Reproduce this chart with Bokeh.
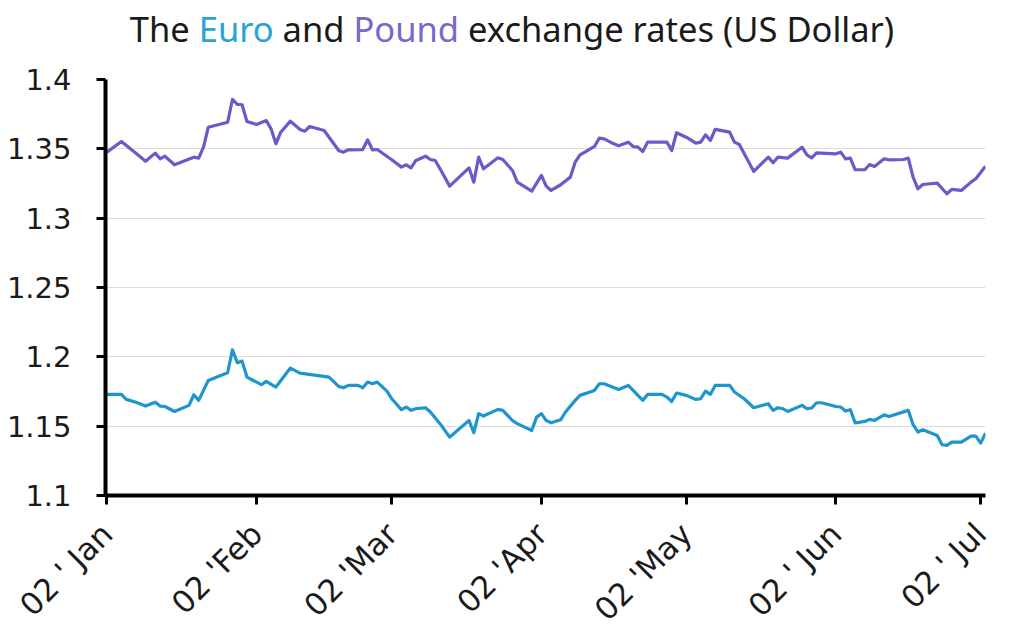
import math

from bokeh.embed import file_html
from bokeh.layouts import column
from bokeh.models import Div, FixedTicker, Range1d
from bokeh.plotting import figure
from bokeh.resources import INLINE

# Days counted from 2 January
pound_day = [0, 3, 6, 8, 10, 11, 12, 14, 18, 19, 20, 21, 25, 26, 27, 28, 29, 31, 33, 34,
             35, 36, 38, 40, 41, 42, 45, 48, 49, 50, 53, 54, 55, 56, 59, 61, 62, 63, 64, 66,
             67, 68, 69, 71, 75, 76, 77, 78, 81, 82, 84, 85, 88, 90, 91, 92, 94, 96, 97, 98,
             99, 101, 102, 103, 105, 106, 108, 109, 110, 111, 112, 116, 117, 118, 120, 122,
             123, 124, 125, 126, 129, 130, 131, 134, 137, 138, 139, 141, 144, 145, 146, 147,
             151, 152, 153, 154, 155, 157, 158, 159, 161, 162, 165, 166, 167, 168, 169, 172,
             174, 175, 177, 179, 180, 182]
pound_usd = [1.3476, 1.3553, 1.3469, 1.3411, 1.3469, 1.3428, 1.3447, 1.3385, 1.3440, 1.3433,
             1.3512, 1.3656, 1.3692, 1.3856, 1.3820, 1.3818, 1.3697, 1.3676, 1.3704, 1.3644,
             1.3536, 1.3620, 1.3700, 1.3640, 1.3627, 1.3661, 1.3632, 1.3488, 1.3476, 1.3493,
             1.3495, 1.3565, 1.3493, 1.3495, 1.3421, 1.3368, 1.3385, 1.3363, 1.3416, 1.3447,
             1.3423, 1.3416, 1.3356, 1.3231, 1.3363, 1.3260, 1.3440, 1.3356, 1.3435, 1.3423,
             1.3344, 1.3260, 1.3195, 1.3308, 1.3231, 1.3200, 1.3241, 1.3296, 1.3404, 1.3457,
             1.3476, 1.3517, 1.3577, 1.3572, 1.3536, 1.3522, 1.3548, 1.3517, 1.3512, 1.3481,
             1.3548, 1.3548, 1.3488, 1.3616, 1.3584, 1.3541, 1.3548, 1.3601, 1.3560, 1.3640,
             1.3620, 1.3548, 1.3531, 1.3337, 1.3440, 1.3400, 1.3440, 1.3433, 1.3512, 1.3457,
             1.3435, 1.3471, 1.3464, 1.3476, 1.3428, 1.3433, 1.3349, 1.3349, 1.3387, 1.3373,
             1.3428, 1.3421, 1.3423, 1.3433, 1.3296, 1.3212, 1.3243, 1.3253, 1.3176, 1.3207,
             1.3200, 1.3260, 1.3284, 1.3375]

euro_day = [0, 3, 4, 6, 8, 10, 11, 12, 14, 17, 18, 19, 21, 25, 26, 27, 28, 29, 32, 33,
            35, 38, 40, 46, 48, 49, 50, 52, 53, 54, 55, 56, 58, 59, 61, 62, 63, 64, 66, 67,
            69, 71, 75, 76, 77, 78, 81, 82, 84, 85, 88, 89, 90, 91, 92, 94, 95, 97, 98, 101,
            102, 103, 106, 108, 110, 111, 112, 115, 116, 117, 118, 120, 122, 123, 124, 125,
            126, 129, 130, 132, 134, 137, 138, 139, 140, 141, 144, 145, 146, 147, 148, 151,
            152, 153, 154, 155, 157, 158, 159, 161, 162, 166, 167, 168, 169, 172, 173, 174,
            175, 177, 179, 180, 181, 182]
euro_usd = [1.1729, 1.1729, 1.1693, 1.1673, 1.1645, 1.1673, 1.1645, 1.1642, 1.1606, 1.1650,
            1.1727, 1.1686, 1.1830, 1.1885, 1.2051, 1.1957, 1.1969, 1.1854, 1.1799, 1.1823,
            1.1782, 1.1919, 1.1883, 1.1854, 1.1787, 1.1777, 1.1794, 1.1794, 1.1777, 1.1818,
            1.1806, 1.1818, 1.1753, 1.1698, 1.1619, 1.1638, 1.1614, 1.1626, 1.1633, 1.1602,
            1.1518, 1.1421, 1.1541, 1.1453, 1.1590, 1.1573, 1.1621, 1.1614, 1.1541, 1.1518,
            1.1469, 1.1565, 1.1590, 1.1541, 1.1525, 1.1546, 1.1602, 1.1686, 1.1722, 1.1758,
            1.1806, 1.1806, 1.1765, 1.1794, 1.1722, 1.1686, 1.1729, 1.1729, 1.1710, 1.1678,
            1.1739, 1.1722, 1.1693, 1.1698, 1.1753, 1.1729, 1.1794, 1.1794, 1.1746, 1.1698,
            1.1633, 1.1662, 1.1614, 1.1633, 1.1626, 1.1606, 1.1650, 1.1626, 1.1631, 1.1669,
            1.1669, 1.1642, 1.1638, 1.1609, 1.1619, 1.1523, 1.1534, 1.1549, 1.1541, 1.1582,
            1.1570, 1.1614, 1.1511, 1.1458, 1.1474, 1.1433, 1.1366, 1.1361, 1.1385, 1.1385,
            1.1428, 1.1428, 1.1378, 1.1450]

tick_days = [0, 31, 59, 90, 120, 151, 181]
tick_labels = ["02 ' Jan", "02 'Feb", "02 'Mar", "02 'Apr", "02 'May", "02 ' Jun", "02 ' Jul"]
y_ticks = [1.1, 1.15, 1.2, 1.25, 1.3, 1.35, 1.4]
y_labels = ["1.1", "1.15", "1.2", "1.25", "1.3", "1.35", "1.4"]

EURO_COLOR = "#1e96cd"
POUND_COLOR = "#6c5ac8"
TITLE_FONT = "Noto Sans"
TICK_FONT = "DejaVu Sans"

title = Div(
    text=(
        f"<div style=\"width:1024px;text-align:center;font-family:'{TITLE_FONT}';font-size:34.5px;"
        "color:#1a1a1a;line-height:40px;padding-top:9px;\">"
        "The <span style='color:#29a3d3'>Euro</span> and "
        "<span style='color:#7a67cc'>Pound</span> exchange rates (US Dollar)</div>"
    ),
    width=1024, height=60, margin=0,
)

p = figure(
    width=1024, height=584, output_backend="svg", toolbar_location=None,
    x_range=Range1d(-0.3, 182), y_range=Range1d(1.1, 1.4),
    min_border_left=105, min_border_right=39, min_border_top=19, min_border_bottom=149,
    margin=0,
)
p.outline_line_color = None
p.background_fill_color = "white"

p.line(pound_day, pound_usd, line_color=POUND_COLOR, line_width=3.2, line_join="round")
p.line(euro_day, euro_usd, line_color=EURO_COLOR, line_width=3.2, line_join="round")

# Axes
for ax in (p.xaxis, p.yaxis):
    ax.axis_line_width = 4
    ax.axis_line_color = "black"
    ax.major_tick_line_width = 3
    ax.major_tick_line_color = "black"
    ax.major_tick_in = 0
    ax.major_tick_out = 9
    ax.minor_tick_line_color = None
    ax.major_label_text_font = TICK_FONT
    ax.major_label_text_color = "#1a1a1a"

p.xaxis.ticker = FixedTicker(ticks=tick_days)
p.xaxis.major_label_overrides = {d: lab for d, lab in zip(tick_days, tick_labels)}
p.xaxis.major_label_orientation = math.pi / 4
p.xaxis.major_label_text_font_size = "31px"
p.xaxis.major_label_standoff = 24

p.yaxis.ticker = FixedTicker(ticks=y_ticks)
p.yaxis.major_label_overrides = {t: lab for t, lab in zip(y_ticks, y_labels)}
p.yaxis.major_label_text_font_size = "29px"
p.yaxis.major_label_standoff = 25

p.xgrid.visible = False
p.ygrid.ticker = FixedTicker(ticks=y_ticks)
p.ygrid.grid_line_color = "#dcdcdc"
p.ygrid.grid_line_width = 1

layout = column(title, p, spacing=0, margin=0)
open("out.html", "w").write(file_html(layout, INLINE))
